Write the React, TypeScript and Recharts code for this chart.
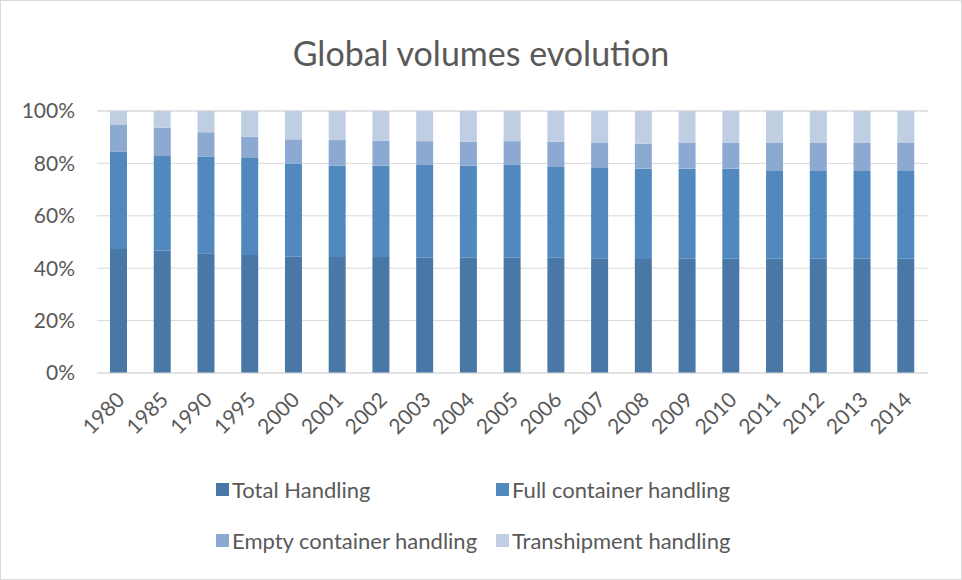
import React from "react";
import { BarChart, Bar, XAxis, YAxis, CartesianGrid, Legend } from "recharts";

const years = ["1980","1985","1990","1995","2000","2001","2002","2003","2004","2005","2006","2007","2008","2009","2010","2011","2012","2013","2014"];
const totalHandling = [47.3,46.7,45.7,45.0,44.4,44.3,44.3,44.0,44.0,44.0,44.0,43.8,43.5,43.6,43.6,43.6,43.6,43.6,43.6];
const fullContainer = [37.2,36.1,36.9,37.1,35.4,34.8,34.8,35.4,35.1,35.4,34.6,34.4,34.5,34.4,34.4,33.5,33.5,33.5,33.5];
const emptyContainer = [10.4,10.8,9.3,8.1,9.4,9.8,9.6,9.1,9.2,9.1,9.7,9.8,9.5,9.8,9.8,10.7,10.7,10.7,10.9];
const transhipment = [5.1,6.4,8.1,9.8,10.8,11.1,11.3,11.5,11.7,11.5,11.7,12.0,12.5,12.2,12.2,12.2,12.2,12.2,12.0];
const yTicks = [0,20,40,60,80,100];

const seriesNames = ["Total Handling","Full container handling","Empty container handling","Transhipment handling"];
const seriesKeys = ["total","full","empty","trans"];
const seriesColors = ["#4a78a6","#5189bf","#8ca9d2","#c0cee4"];

const data = years.map((y, i) => ({
  year: y,
  total: totalHandling[i],
  full: fullContainer[i],
  empty: emptyContainer[i],
  trans: transhipment[i],
}));

const FONT = "Lato, 'Open Sans', sans-serif";
const TXT = "#595959";

const XTick = (props: any) => {
  const { x, y, payload } = props;
  return (
    <g transform={`translate(${x + 1},${y + 14})`}>
      <text transform="rotate(-45)" textAnchor="end" dominantBaseline="central" fill={TXT} fontSize={21} fontFamily={FONT}>
        {payload.value}
      </text>
    </g>
  );
};

const LegendContent = () => (
  <div style={{ display: "grid", gridTemplateColumns: "280px 260px", rowGap: 22, marginLeft: 215, fontFamily: FONT, fontSize: 22, color: TXT }}>
    {seriesNames.map((n, i) => (
      <div key={n} style={{ display: "flex", alignItems: "center", height: 29 }}>
        <span style={{ width: 13, height: 13, background: seriesColors[i], marginRight: 3, display: "inline-block" }} />
        <span>{n}</span>
      </div>
    ))}
  </div>
);

export default function App() {
  return (
    <div style={{ position: "absolute", left: 0, top: 0, width: 960, height: 578, border: "1px solid #d9d9d9", background: "#fff" }}>
      <div style={{ position: "absolute", left: 0, top: 31, width: 960, textAlign: "center", fontFamily: FONT, fontSize: 34, color: TXT }}>
        Global volumes evolution
      </div>
      <BarChart width={960} height={578} data={data} margin={{ top: 110, right: 33, left: 0, bottom: 46 }} barSize={17}>
        <CartesianGrid vertical={false} stroke="#d9d9d9" />
        <XAxis dataKey="year" tick={<XTick />} tickLine={false} axisLine={{ stroke: "#d9d9d9" }} interval={0} height={80} />
        <YAxis
          domain={[0, 100]}
          ticks={yTicks}
          tickFormatter={(v: number) => `${v}%`}
          tickLine={false}
          axisLine={false}
          tickSize={0}
          tickMargin={22}
          width={96}
          tick={{ fill: TXT, fontSize: 21, fontFamily: FONT }}
        />
        {seriesKeys.map((k, i) => (
          <Bar key={k} dataKey={k} name={seriesNames[i]} stackId="a" fill={seriesColors[i]} isAnimationActive={false} />
        ))}
        <Legend content={<LegendContent />} wrapperStyle={{ position: "absolute", top: 474, left: 0, width: 960 }} />
      </BarChart>
    </div>
  );
}
